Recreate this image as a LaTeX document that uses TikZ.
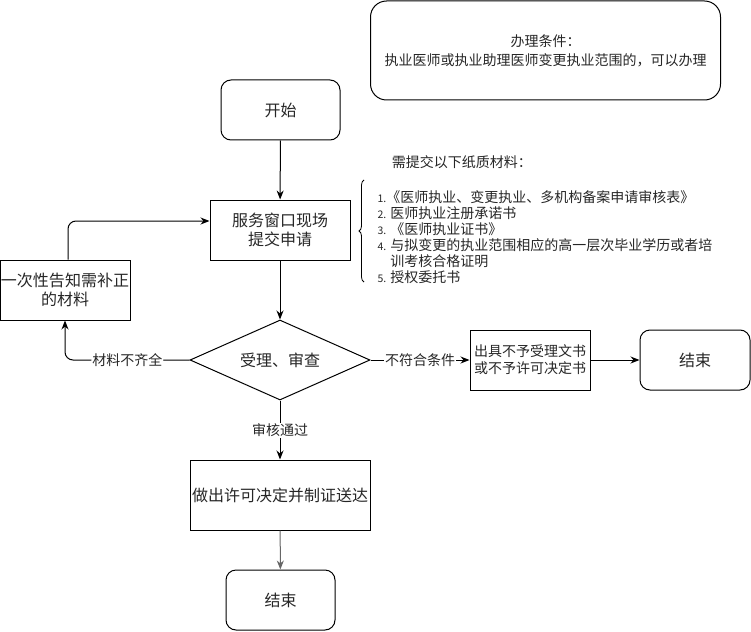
\documentclass[tikz,border=0pt]{standalone}
\usepackage{fontspec}
\setmainfont{Noto Sans CJK SC}
\usetikzlibrary{arrows.meta}
\usetikzlibrary{shapes.geometric}
\usetikzlibrary{decorations.pathreplacing}

\newcommand{\itemno}[1]{{\fontsize{10.5}{16}\selectfont #1.}}

\begin{document}
\begin{tikzpicture}[
      x=1pt, y=-1pt, % 按像素坐标放置
      line width=1pt,
      every node/.style={text=black!85, font=\fontsize{16}{19}\selectfont},
      box/.style={draw, inner sep=1pt, align=center},
      roundbox/.style={box, rounded corners=10pt},
      decision/.style={draw, shape=diamond, aspect=2.25, inner sep=0pt,
          minimum width=180pt, minimum height=80pt},
      lbl/.style={fill=white, inner sep=1pt, font=\fontsize{14}{16}\selectfont},
      arr/.style={-{Stealth[length=9pt, width=7pt]}}
  ]
    \useasboundingbox (0,0) rectangle (751,631);

    % 办理条件
    \node[roundbox, rounded corners=16pt, minimum width=350pt, minimum height=99pt,
          font=\fontsize{14}{19}\selectfont] (cond) at (545.5,50.5)
          {办理条件：\\执业医师或执业助理医师变更执业范围的，可以办理};

    % 主流程
    \node[roundbox, minimum width=119pt, minimum height=60pt] (start) at (280.5,110) {开始};
    \node[box, minimum width=140pt, minimum height=60pt] (apply) at (280,230) {服务窗口现场\\提交申请};
    \node[decision] (check) at (280,360) {受理、审查};
    \node[box, minimum width=180pt, minimum height=70pt] (permit) at (280,495) {做出许可决定并制证送达};
    \node[roundbox, minimum width=109pt, minimum height=60pt] (end1) at (280.5,600) {结束};

    % 左侧补正
    \node[box, minimum width=129pt, minimum height=60pt] (fix) at (65,290) {一次性告知需补正\\的材料};

    % 右侧不予受理
    \node[box, minimum width=120pt, minimum height=60pt, font=\fontsize{14}{17}\selectfont]
          (refuse) at (530,360) {出具不予受理文书\\或不予许可决定书};
    \node[roundbox, minimum width=110pt, minimum height=60pt] (end2) at (695,360) {结束};

    % 纸质材料
    \node[font=\fontsize{14}{16}\selectfont, anchor=west] (title) at (388,162) {需提交以下纸质材料：};
    \node[font=\fontsize{14}{16}\selectfont, anchor=west, align=left, inner sep=0pt] (list) at (377,237.5)
          {\itemno{1}《医师执业、变更执业、多机构备案申请审核表》\\
           \itemno{2} 医师执业注册承诺书\\
           \itemno{3} 《医师执业证书》\\
           \itemno{4} 与拟变更的执业范围相应的高一层次毕业学历或者培\\
           \hphantom{\itemno{4} }训考核合格证明\\
           \itemno{5} 授权委托书};
    \draw[decorate, decoration={brace, amplitude=5pt}, line width=0.8pt]
          (364,282) -- (364,180);

    % 连线
    \draw[arr] (start) -- (apply);
    \draw[arr] (apply) -- (check);
    \draw[arr] (check) -- node[lbl] {审核通过} (permit);
    \draw[arr, draw=black!60] (permit) -- (end1);
    \draw[arr] (check) -- node[lbl] {不符合条件} (refuse);
    \draw[arr] (refuse) -- (end2);
    \draw[arr, rounded corners=8pt] (check.west) -| node[lbl, pos=0.25] {材料不齐全} (fix.south);
    \draw[arr, rounded corners=8pt] ([xshift=3pt]fix.north) |- ([yshift=9pt]apply.west);
\end{tikzpicture}
\end{document}
